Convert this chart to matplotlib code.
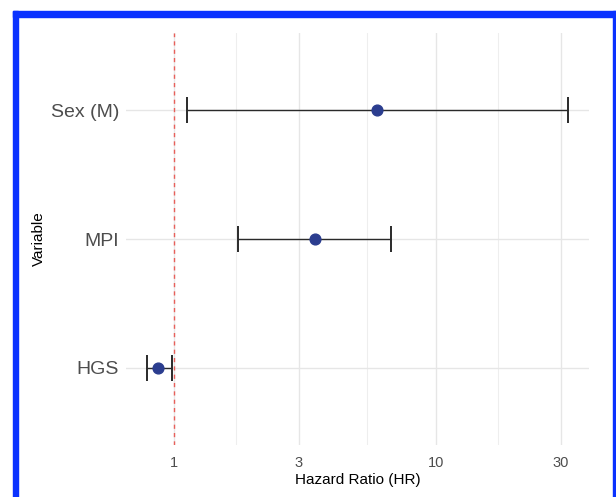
import matplotlib.pyplot as plt
from matplotlib.patches import Rectangle
from matplotlib.ticker import FixedLocator, NullFormatter
import numpy as np

plt.rcParams["font.family"] = ["Liberation Sans", "DejaVu Sans"]

variables = ["HGS", "MPI", "Sex (M)"]
hr = [0.87, 3.45, 5.95]
hr_low = [0.79, 1.75, 1.12]
hr_high = [0.98, 6.75, 31.9]

W, H = 616, 497
fig = plt.figure(figsize=(W / 100, H / 100), dpi=100)
ax = fig.add_axes([126 / W, 1 - 445 / H, (589 - 126) / W, (445 - 33) / H])

y = np.arange(len(variables))
ax.set_xscale("log")

# grid like ggplot's minimal theme
major = [1, 3, 10, 30]
minor = [np.sqrt(3), np.sqrt(30), np.sqrt(300)]
ax.xaxis.set_major_locator(FixedLocator(major))
ax.xaxis.set_minor_locator(FixedLocator(minor))
ax.xaxis.set_minor_formatter(NullFormatter())
ax.set_xticklabels([str(v) for v in major])
for v in major:
    ax.axvline(v, color="#e6e6e6", lw=1.0, zorder=0)
for v in minor:
    ax.axvline(v, color="#eeeeee", lw=0.8, zorder=0)
for yy in y:
    ax.axhline(yy, color="#e6e6e6", lw=1.0, zorder=0)

ax.axvline(1, color="#e8605a", lw=1.0, ls=(0, (3, 3)), zorder=1)

err = [np.array(hr) - np.array(hr_low), np.array(hr_high) - np.array(hr)]
ax.errorbar(hr, y, xerr=err, fmt="none", ecolor="#2a2a2a", elinewidth=1.0,
            capsize=9.5, capthick=1.4, zorder=2)
ax.scatter(hr, y, s=60, color="#2b3d8f", zorder=3)

lo = np.log10(min(hr_low))
hi = np.log10(max(hr_high))
pad = 0.05 * (hi - lo)
ax.set_xlim(10 ** (lo - pad), 10 ** (hi + pad))
ax.set_ylim(-0.6, len(variables) - 0.4)
ax.set_yticks(y)
ax.set_yticklabels(variables)

for s in ax.spines.values():
    s.set_visible(False)
ax.tick_params(axis="both", which="both", length=0)
ax.tick_params(axis="x", labelsize=10.5, labelcolor="#4d4d4d", pad=8)
ax.tick_params(axis="y", labelsize=14, labelcolor="#4d4d4d", pad=5)
ax.set_xlabel("Hazard Ratio (HR)", fontsize=11, labelpad=2)
ax.set_ylabel("Variable", fontsize=11)
ax.yaxis.set_label_coords(-0.173, 0.5)

# blue frame around the panel
blue = "#0a32ff"
for x0, y0, w, h in [(13, 0, 5, H - 11), (13, H - 17, W - 13, 6), (613, 0, 5, H - 11)]:
    fig.patches.append(Rectangle((x0 / W, y0 / H), w / W, h / H, transform=fig.transFigure,
                                 color=blue, zorder=10))

fig.savefig("out.png", dpi=100)
